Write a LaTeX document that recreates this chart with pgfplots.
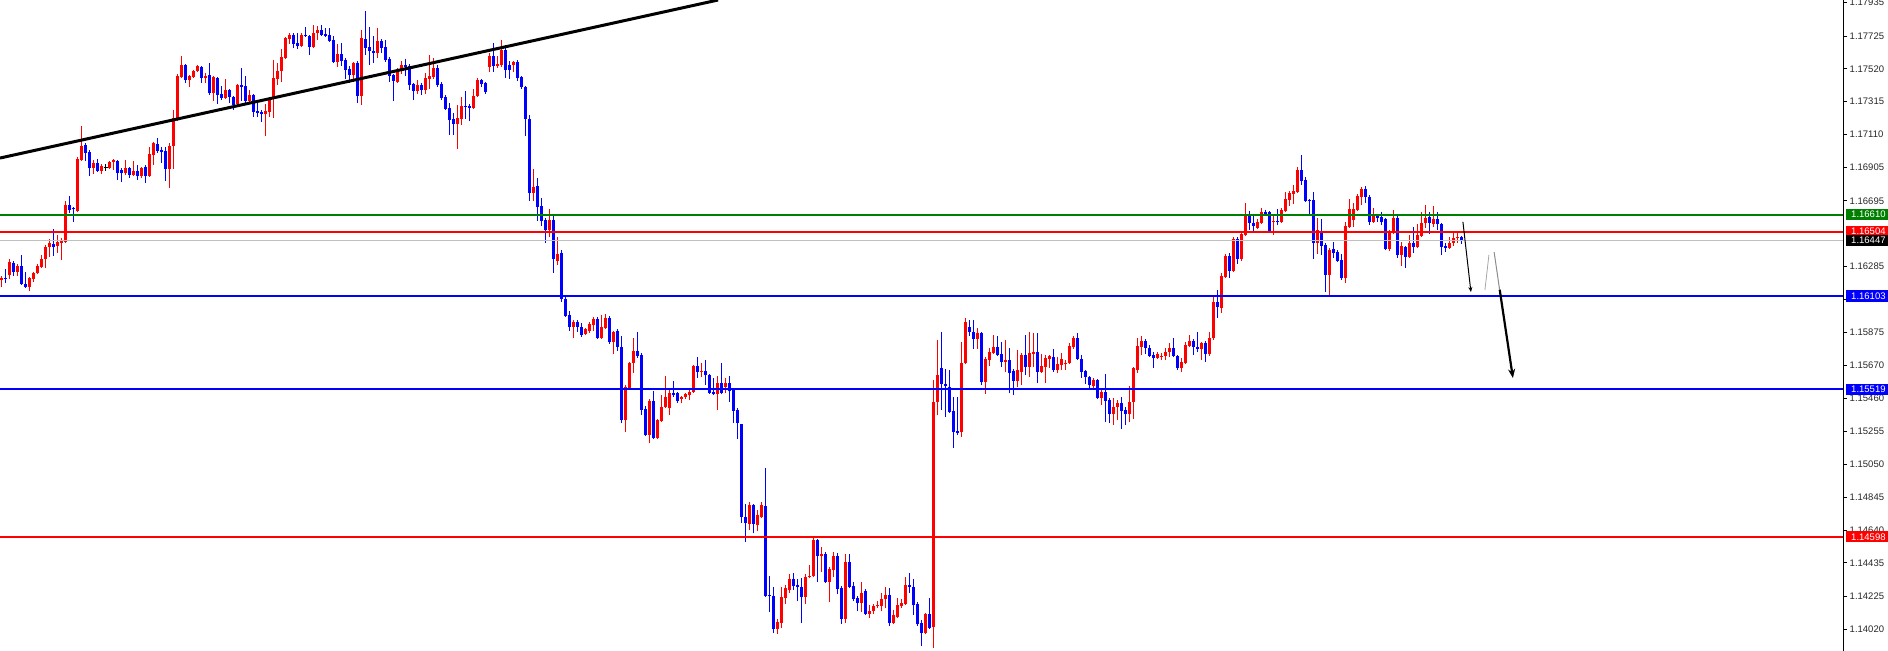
\documentclass[border=0pt]{standalone}
\usepackage{pgfplots}
\usepackage{pgfplotstable}
\pgfplotsset{compat=1.18}
\usepackage{fontspec}
\setmainfont{Liberation Sans}
\usetikzlibrary{arrows.meta}
\definecolor{mtred}{RGB}{255,0,0}
\definecolor{mtblue}{RGB}{0,0,255}
\definecolor{mtgreen}{RGB}{0,128,0}
\definecolor{mtsilver}{RGB}{192,192,192}
\newcommand{\lblfont}{\fontsize{9.5bp}{9.5bp}\selectfont}

\pgfplotstableread{
i o h l c
0 1.16202 1.16227 1.16158 1.16215
1 1.16215 1.16271 1.16183 1.16208
2 1.16233 1.16333 1.16208 1.16315
3 1.16308 1.16321 1.16227 1.16252
4 1.16252 1.16302 1.16227 1.16290
5 1.16290 1.16358 1.16171 1.16177
6 1.16177 1.16252 1.16152 1.16158
7 1.16158 1.16221 1.16133 1.16215
8 1.16208 1.16252 1.16190 1.16246
9 1.16246 1.16302 1.16240 1.16290
10 1.16283 1.16358 1.16277 1.16333
11 1.16333 1.16421 1.16277 1.16408
12 1.16408 1.16458 1.16346 1.16433
13 1.16427 1.16521 1.16352 1.16408
14 1.16415 1.16483 1.16371 1.16440
15 1.16433 1.16465 1.16327 1.16452
16 1.16440 1.16696 1.16433 1.16671
17 1.16671 1.16727 1.16621 1.16640
18 1.16652 1.16658 1.16565 1.16646
19 1.16633 1.16971 1.16627 1.16958
20 1.16952 1.17165 1.16946 1.17040
21 1.17046 1.17058 1.16946 1.16996
22 1.17002 1.17015 1.16852 1.16902
23 1.16902 1.16952 1.16865 1.16933
24 1.16933 1.16958 1.16877 1.16883
25 1.16883 1.16927 1.16865 1.16915
26 1.16902 1.16927 1.16883 1.16902
27 1.16902 1.16946 1.16896 1.16940
28 1.16940 1.16958 1.16890 1.16952
29 1.16946 1.16952 1.16827 1.16871
30 1.16890 1.16902 1.16815 1.16871
31 1.16871 1.16952 1.16858 1.16902
32 1.16902 1.16908 1.16840 1.16858
33 1.16858 1.16946 1.16852 1.16883
34 1.16883 1.16921 1.16827 1.16852
35 1.16852 1.16908 1.16840 1.16902
36 1.16908 1.16921 1.16808 1.16852
37 1.16852 1.17034 1.16846 1.16990
38 1.16983 1.17065 1.16921 1.17058
39 1.17052 1.17090 1.16996 1.17008
40 1.17015 1.17034 1.16933 1.17002
41 1.17008 1.17034 1.16821 1.16896
42 1.16896 1.17058 1.16777 1.17040
43 1.17040 1.17265 1.16896 1.17215
44 1.17208 1.17490 1.17196 1.17477
45 1.17471 1.17602 1.17465 1.17546
46 1.17546 1.17552 1.17433 1.17452
47 1.17452 1.17483 1.17408 1.17477
48 1.17471 1.17515 1.17465 1.17508
49 1.17508 1.17546 1.17502 1.17540
50 1.17533 1.17540 1.17433 1.17465
51 1.17465 1.17496 1.17433 1.17477
52 1.17483 1.17558 1.17358 1.17371
53 1.17371 1.17477 1.17321 1.17471
54 1.17465 1.17471 1.17302 1.17358
55 1.17365 1.17415 1.17327 1.17340
56 1.17340 1.17458 1.17333 1.17390
57 1.17390 1.17396 1.17308 1.17346
58 1.17346 1.17352 1.17265 1.17296
59 1.17302 1.17427 1.17290 1.17421
60 1.17421 1.17527 1.17321 1.17408
61 1.17415 1.17477 1.17308 1.17321
62 1.17321 1.17390 1.17302 1.17358
63 1.17358 1.17365 1.17221 1.17252
64 1.17258 1.17315 1.17221 1.17246
65 1.17252 1.17265 1.17190 1.17240
66 1.17240 1.17302 1.17102 1.17258
67 1.17252 1.17340 1.17221 1.17333
68 1.17333 1.17577 1.17215 1.17465
69 1.17458 1.17558 1.17421 1.17508
70 1.17508 1.17646 1.17440 1.17596
71 1.17590 1.17721 1.17583 1.17715
72 1.17708 1.17746 1.17677 1.17733
73 1.17733 1.17746 1.17652 1.17677
74 1.17683 1.17746 1.17646 1.17665
75 1.17665 1.17746 1.17658 1.17733
76 1.17733 1.17783 1.17721 1.17727
77 1.17727 1.17733 1.17608 1.17658
78 1.17658 1.17796 1.17652 1.17746
79 1.17746 1.17790 1.17702 1.17765
80 1.17765 1.17796 1.17727 1.17733
81 1.17740 1.17777 1.17721 1.17727
82 1.17733 1.17777 1.17690 1.17696
83 1.17702 1.17727 1.17558 1.17565
84 1.17565 1.17677 1.17533 1.17615
85 1.17615 1.17683 1.17540 1.17571
86 1.17577 1.17590 1.17458 1.17515
87 1.17521 1.17540 1.17433 1.17483
88 1.17483 1.17565 1.17440 1.17558
89 1.17558 1.17571 1.17308 1.17352
90 1.17352 1.17765 1.17296 1.17715
91 1.17708 1.17883 1.17608 1.17652
92 1.17658 1.17783 1.17546 1.17633
93 1.17633 1.17727 1.17558 1.17621
94 1.17621 1.17777 1.17590 1.17696
95 1.17696 1.17708 1.17621 1.17652
96 1.17658 1.17702 1.17565 1.17577
97 1.17583 1.17596 1.17440 1.17477
98 1.17483 1.17490 1.17321 1.17446
99 1.17440 1.17527 1.17433 1.17515
100 1.17508 1.17571 1.17490 1.17546
101 1.17546 1.17583 1.17477 1.17533
102 1.17540 1.17552 1.17390 1.17421
103 1.17427 1.17433 1.17327 1.17383
104 1.17383 1.17452 1.17365 1.17421
105 1.17421 1.17433 1.17358 1.17390
106 1.17390 1.17496 1.17365 1.17465
107 1.17458 1.17608 1.17396 1.17477
108 1.17471 1.17590 1.17458 1.17527
109 1.17527 1.17546 1.17408 1.17421
110 1.17427 1.17440 1.17327 1.17340
111 1.17346 1.17358 1.17265 1.17271
112 1.17277 1.17308 1.17109 1.17202
113 1.17208 1.17246 1.17109 1.17177
114 1.17177 1.17296 1.17021 1.17215
115 1.17208 1.17346 1.17171 1.17290
116 1.17290 1.17383 1.17208 1.17283
117 1.17290 1.17302 1.17196 1.17277
118 1.17277 1.17396 1.17271 1.17352
119 1.17352 1.17465 1.17346 1.17452
120 1.17452 1.17458 1.17408 1.17427
121 1.17433 1.17440 1.17365 1.17377
122 1.17533 1.17621 1.17502 1.17602
123 1.17602 1.17683 1.17502 1.17540
124 1.17540 1.17602 1.17527 1.17552
125 1.17546 1.17702 1.17533 1.17640
126 1.17640 1.17671 1.17465 1.17515
127 1.17546 1.17571 1.17458 1.17515
128 1.17546 1.17571 1.17502 1.17565
129 1.17565 1.17577 1.17446 1.17465
130 1.17471 1.17477 1.17396 1.17408
131 1.17408 1.17415 1.17102 1.17208
132 1.17208 1.17233 1.16696 1.16746
133 1.16746 1.16896 1.16696 1.16783
134 1.16790 1.16840 1.16571 1.16658
135 1.16665 1.16715 1.16540 1.16571
136 1.16577 1.16590 1.16433 1.16515
137 1.16515 1.16646 1.16471 1.16577
138 1.16577 1.16608 1.16246 1.16333
139 1.16321 1.16471 1.16296 1.16365
140 1.16371 1.16390 1.16065 1.16083
141 1.16083 1.16102 1.15971 1.15977
142 1.15983 1.16008 1.15883 1.15908
143 1.15908 1.15952 1.15840 1.15940
144 1.15940 1.15952 1.15877 1.15908
145 1.15908 1.15933 1.15846 1.15858
146 1.15865 1.15902 1.15858 1.15896
147 1.15883 1.15940 1.15871 1.15927
148 1.15921 1.15971 1.15883 1.15958
149 1.15958 1.15971 1.15833 1.15840
150 1.15840 1.15983 1.15833 1.15908
151 1.15902 1.15990 1.15896 1.15965
152 1.15965 1.15977 1.15802 1.15815
153 1.15815 1.15883 1.15740 1.15877
154 1.15883 1.15896 1.15758 1.15783
155 1.15783 1.15852 1.15308 1.15327
156 1.15327 1.15546 1.15252 1.15533
157 1.15527 1.15690 1.15521 1.15683
158 1.15683 1.15840 1.15621 1.15758
159 1.15758 1.15877 1.15715 1.15727
160 1.15733 1.15746 1.15358 1.15390
161 1.15396 1.15415 1.15227 1.15233
162 1.15233 1.15458 1.15183 1.15446
163 1.15446 1.15508 1.15208 1.15215
164 1.15215 1.15333 1.15208 1.15327
165 1.15321 1.15483 1.15315 1.15408
166 1.15408 1.15602 1.15402 1.15471
167 1.15402 1.15515 1.15358 1.15496
168 1.15496 1.15571 1.15471 1.15483
169 1.15496 1.15502 1.15433 1.15446
170 1.15458 1.15477 1.15433 1.15471
171 1.15471 1.15496 1.15458 1.15490
172 1.15483 1.15515 1.15452 1.15502
173 1.15502 1.15671 1.15496 1.15665
174 1.15665 1.15721 1.15590 1.15627
175 1.15627 1.15683 1.15596 1.15633
176 1.15633 1.15702 1.15546 1.15608
177 1.15608 1.15615 1.15490 1.15496
178 1.15502 1.15590 1.15483 1.15490
179 1.15490 1.15602 1.15390 1.15558
180 1.15558 1.15683 1.15490 1.15496
181 1.15533 1.15590 1.15496 1.15558
182 1.15558 1.15602 1.15440 1.15508
183 1.15521 1.15527 1.15308 1.15383
184 1.15390 1.15402 1.15208 1.15308
185 1.15302 1.15302 1.14683 1.14721
186 1.14721 1.14802 1.14565 1.14683
187 1.14677 1.14815 1.14640 1.14796
188 1.14796 1.14802 1.14621 1.14677
189 1.14671 1.14765 1.14633 1.14733
190 1.14721 1.14815 1.14715 1.14796
191 1.14790 1.15027 1.14221 1.14227
192 1.14233 1.14352 1.14127 1.14227
193 1.14227 1.14283 1.13996 1.14021
194 1.14021 1.14083 1.13990 1.14065
195 1.14058 1.14283 1.14027 1.14221
196 1.14215 1.14296 1.14177 1.14277
197 1.14265 1.14365 1.14246 1.14333
198 1.14333 1.14371 1.14265 1.14290
199 1.14296 1.14333 1.14196 1.14283
200 1.14283 1.14340 1.14058 1.14221
201 1.14221 1.14365 1.14177 1.14346
202 1.14346 1.14421 1.14340 1.14352
203 1.14352 1.14590 1.14346 1.14577
204 1.14577 1.14583 1.14315 1.14477
205 1.14477 1.14533 1.14377 1.14490
206 1.14490 1.14502 1.14308 1.14315
207 1.14315 1.14408 1.14190 1.14396
208 1.14390 1.14502 1.14346 1.14477
209 1.14477 1.14496 1.14240 1.14271
210 1.14277 1.14290 1.14052 1.14083
211 1.14083 1.14490 1.14058 1.14440
212 1.14440 1.14490 1.14277 1.14283
213 1.14290 1.14315 1.14196 1.14208
214 1.14215 1.14227 1.14133 1.14183
215 1.14183 1.14315 1.14127 1.14246
216 1.14258 1.14271 1.14108 1.14115
217 1.14115 1.14171 1.14090 1.14133
218 1.14133 1.14177 1.14115 1.14165
219 1.14165 1.14196 1.14152 1.14171
220 1.14165 1.14246 1.14133 1.14208
221 1.14208 1.14283 1.14152 1.14233
222 1.14233 1.14277 1.14040 1.14058
223 1.14058 1.14140 1.14052 1.14108
224 1.14096 1.14215 1.14090 1.14171
225 1.14165 1.14208 1.14152 1.14183
226 1.14177 1.14346 1.14171 1.14296
227 1.14296 1.14371 1.14246 1.14283
228 1.14283 1.14333 1.14108 1.14171
229 1.14177 1.14190 1.14040 1.14052
230 1.14058 1.14077 1.13915 1.13996
231 1.13996 1.14121 1.13990 1.14115
232 1.14115 1.14215 1.14021 1.14027
233 1.14033 1.15577 1.13902 1.15440
234 1.15440 1.15827 1.15358 1.15608
235 1.15652 1.15877 1.15390 1.15552
236 1.15552 1.15646 1.15346 1.15540
237 1.15533 1.15640 1.15371 1.15377
238 1.15383 1.15471 1.15152 1.15252
239 1.15258 1.15471 1.15233 1.15246
240 1.15252 1.15815 1.15221 1.15683
241 1.15683 1.15965 1.15677 1.15940
242 1.15908 1.15952 1.15852 1.15877
243 1.15877 1.15952 1.15771 1.15833
244 1.15833 1.15902 1.15771 1.15871
245 1.15871 1.15877 1.15546 1.15565
246 1.15565 1.15721 1.15490 1.15708
247 1.15702 1.15777 1.15665 1.15752
248 1.15746 1.15858 1.15740 1.15783
249 1.15783 1.15852 1.15727 1.15733
250 1.15740 1.15815 1.15658 1.15690
251 1.15690 1.15827 1.15627 1.15702
252 1.15702 1.15777 1.15496 1.15621
253 1.15633 1.15646 1.15483 1.15571
254 1.15571 1.15765 1.15533 1.15640
255 1.15627 1.15746 1.15546 1.15733
256 1.15733 1.15858 1.15608 1.15658
257 1.15658 1.15877 1.15596 1.15746
258 1.15740 1.15871 1.15658 1.15752
259 1.15752 1.15871 1.15558 1.15627
260 1.15627 1.15740 1.15621 1.15665
261 1.15658 1.15733 1.15558 1.15715
262 1.15708 1.15733 1.15652 1.15727
263 1.15721 1.15771 1.15627 1.15640
264 1.15640 1.15721 1.15621 1.15677
265 1.15671 1.15746 1.15640 1.15708
266 1.15677 1.15702 1.15640 1.15683
267 1.15683 1.15808 1.15677 1.15790
268 1.15783 1.15852 1.15771 1.15840
269 1.15840 1.15871 1.15702 1.15708
270 1.15708 1.15733 1.15590 1.15627
271 1.15633 1.15640 1.15552 1.15596
272 1.15596 1.15602 1.15527 1.15546
273 1.15540 1.15590 1.15527 1.15577
274 1.15577 1.15583 1.15458 1.15465
275 1.15465 1.15515 1.15421 1.15502
276 1.15502 1.15615 1.15315 1.15446
277 1.15452 1.15465 1.15308 1.15365
278 1.15365 1.15465 1.15296 1.15408
279 1.15408 1.15452 1.15327 1.15433
280 1.15433 1.15471 1.15271 1.15383
281 1.15390 1.15408 1.15296 1.15365
282 1.15365 1.15540 1.15315 1.15440
283 1.15440 1.15658 1.15333 1.15652
284 1.15640 1.15840 1.15621 1.15790
285 1.15783 1.15852 1.15733 1.15821
286 1.15821 1.15833 1.15740 1.15777
287 1.15777 1.15796 1.15721 1.15727
288 1.15733 1.15752 1.15652 1.15715
289 1.15715 1.15752 1.15708 1.15740
290 1.15721 1.15746 1.15702 1.15727
291 1.15727 1.15777 1.15702 1.15752
292 1.15752 1.15808 1.15721 1.15777
293 1.15777 1.15840 1.15721 1.15727
294 1.15727 1.15733 1.15640 1.15652
295 1.15652 1.15715 1.15627 1.15690
296 1.15683 1.15815 1.15677 1.15796
297 1.15790 1.15858 1.15783 1.15821
298 1.15821 1.15833 1.15733 1.15783
299 1.15783 1.15877 1.15752 1.15771
300 1.15771 1.15815 1.15702 1.15808
301 1.15808 1.15821 1.15690 1.15740
302 1.15740 1.15877 1.15727 1.15840
303 1.15840 1.16108 1.15827 1.16065
304 1.16065 1.16140 1.15965 1.16033
305 1.16027 1.16246 1.15996 1.16227
306 1.16221 1.16365 1.16215 1.16352
307 1.16352 1.16371 1.16215 1.16258
308 1.16258 1.16471 1.16252 1.16458
309 1.16458 1.16471 1.16302 1.16333
310 1.16333 1.16496 1.16321 1.16490
311 1.16483 1.16683 1.16477 1.16615
312 1.16608 1.16633 1.16515 1.16558
313 1.16558 1.16602 1.16502 1.16540
314 1.16527 1.16583 1.16521 1.16565
315 1.16558 1.16652 1.16552 1.16627
316 1.16627 1.16640 1.16602 1.16615
317 1.16627 1.16633 1.16496 1.16508
318 1.16565 1.16608 1.16483 1.16571
319 1.16571 1.16646 1.16546 1.16565
320 1.16565 1.16652 1.16558 1.16640
321 1.16633 1.16752 1.16627 1.16708
322 1.16702 1.16758 1.16665 1.16746
323 1.16740 1.16796 1.16677 1.16758
324 1.16752 1.16908 1.16746 1.16890
325 1.16890 1.16983 1.16796 1.16821
326 1.16827 1.16846 1.16690 1.16696
327 1.16702 1.16708 1.16608 1.16696
328 1.16702 1.16752 1.16333 1.16433
329 1.16433 1.16590 1.16365 1.16515
330 1.16502 1.16583 1.16358 1.16415
331 1.16421 1.16433 1.16127 1.16233
332 1.16233 1.16402 1.16102 1.16390
333 1.16396 1.16440 1.16340 1.16371
334 1.16377 1.16390 1.16315 1.16321
335 1.16327 1.16365 1.16202 1.16215
336 1.16215 1.16565 1.16183 1.16540
337 1.16533 1.16708 1.16527 1.16646
338 1.16577 1.16683 1.16533 1.16646
339 1.16640 1.16740 1.16633 1.16727
340 1.16721 1.16783 1.16671 1.16771
341 1.16771 1.16790 1.16683 1.16721
342 1.16721 1.16733 1.16546 1.16565
343 1.16565 1.16652 1.16558 1.16602
344 1.16602 1.16608 1.16565 1.16590
345 1.16596 1.16627 1.16546 1.16565
346 1.16583 1.16590 1.16390 1.16396
347 1.16396 1.16515 1.16383 1.16496
348 1.16496 1.16640 1.16490 1.16590
349 1.16590 1.16608 1.16340 1.16358
350 1.16358 1.16440 1.16290 1.16415
351 1.16408 1.16415 1.16277 1.16346
352 1.16346 1.16483 1.16340 1.16433
353 1.16433 1.16533 1.16371 1.16408
354 1.16408 1.16552 1.16402 1.16483
355 1.16477 1.16627 1.16471 1.16558
356 1.16558 1.16671 1.16527 1.16590
357 1.16596 1.16627 1.16490 1.16558
358 1.16552 1.16665 1.16533 1.16583
359 1.16583 1.16627 1.16515 1.16552
360 1.16552 1.16558 1.16358 1.16408
361 1.16415 1.16433 1.16377 1.16402
362 1.16402 1.16471 1.16396 1.16433
363 1.16433 1.16496 1.16415 1.16465
364 1.16465 1.16502 1.16433 1.16471
365 1.16471 1.16477 1.16427 1.16447
}\candles

\begin{document}
\begin{tikzpicture}
\begin{axis}[
  at={(0,0)}, anchor=south west,
  scale only axis, width=1843bp, height=651bp,
  xmin=-0.425, xmax=460.325, ymin=1.138845, ymax=1.17950,
  clip=false,
  axis x line=none,
  axis y line*=right,
  axis line style={black, line width=1bp},
  ytick={1.14020,1.14225,1.14435,1.14640,1.14845,1.15050,1.15255,1.15460,1.15670,1.15875,1.16080,1.16285,1.16695,1.16905,1.17110,1.17315,1.17520,1.17725,1.17935},
  yticklabels={1.14020,1.14225,1.14435,1.14640,1.14845,1.15050,1.15255,1.15460,1.15670,1.15875,1.16080,1.16285,1.16695,1.16905,1.17110,1.17315,1.17520,1.17725,1.17935},
  tick align=outside, major tick length=4bp,
  ytick style={black, line width=1bp},
  yticklabel style={font=\lblfont, anchor=west, inner sep=0pt, xshift=2.5bp, text=black!85},
]
% wicks
\addplot[draw=none, mark=none,
  restrict expr to domain={\thisrow{c}-\thisrow{o}}{0.00001:1},
  error bars/.cd, y dir=plus, y explicit, error mark=none,
  error bar style={draw=mtred, line width=1bp}]
  table[x=i, y=l, y error plus expr=\thisrow{h}-\thisrow{l}] {\candles};
\addplot[draw=none, mark=none,
  restrict expr to domain={\thisrow{c}-\thisrow{o}}{-1:-0.00001},
  error bars/.cd, y dir=plus, y explicit, error mark=none,
  error bar style={draw=mtblue, line width=1bp}]
  table[x=i, y=l, y error plus expr=\thisrow{h}-\thisrow{l}] {\candles};
\addplot[draw=none, mark=none,
  restrict expr to domain={\thisrow{c}-\thisrow{o}}{-0.000005:0.000005},
  error bars/.cd, y dir=plus, y explicit, error mark=none,
  error bar style={draw=black, line width=1bp}]
  table[x=i, y=l, y error plus expr=\thisrow{h}-\thisrow{l}] {\candles};
% bodies
\addplot[draw=none, mark=none,
  restrict expr to domain={\thisrow{c}-\thisrow{o}}{0.00001:1},
  error bars/.cd, y dir=plus, y explicit, error mark=none,
  error bar style={draw=mtred, line width=3bp}]
  table[x=i, y=o, y error plus expr=\thisrow{c}-\thisrow{o}] {\candles};
\addplot[draw=none, mark=none,
  restrict expr to domain={\thisrow{c}-\thisrow{o}}{-1:-0.00001},
  error bars/.cd, y dir=plus, y explicit, error mark=none,
  error bar style={draw=mtblue, line width=3bp}]
  table[x=i, y=c, y error plus expr=\thisrow{o}-\thisrow{c}] {\candles};
\addplot[black, only marks, mark=-, mark size=2bp, mark options={line width=1bp},
  restrict expr to domain={\thisrow{c}-\thisrow{o}}{-0.000005:0.000005}]
  table[x=i, y=o] {\candles};
% levels
\addplot[mtsilver, line width=1bp] coordinates {(-0.425,1.16447) (460.325,1.16447)};
\addplot[mtgreen, line width=2bp] coordinates {(-0.425,1.16610) (460.325,1.16610)};
\addplot[mtred, line width=2bp] coordinates {(-0.425,1.16504) (460.325,1.16504)};
\addplot[mtblue, line width=2bp] coordinates {(-0.425,1.16103) (460.325,1.16103)};
\addplot[mtblue, line width=2bp] coordinates {(-0.425,1.15519) (460.325,1.15519)};
\addplot[mtred, line width=2bp] coordinates {(-0.425,1.14598) (460.325,1.14598)};
% trend line
\addplot[black, line width=3bp] coordinates {(-0.425,1.16963) (179.1,1.17950)};
% projection arrows
\draw[black, line width=1bp, -{Stealth[length=5bp,width=4bp]}] (axis cs:365.3,1.16564) -- (axis cs:367.3,1.16126);
\draw[black!35, line width=0.8bp] (axis cs:370.8,1.16139) -- (axis cs:371.8,1.16358);
\draw[black!45, line width=1bp] (axis cs:373.1,1.16376) -- (axis cs:374.6,1.16118);
\draw[black, line width=2.2bp, -{Stealth[length=9bp,width=7bp]}] (axis cs:374.5,1.16140) -- (axis cs:377.8,1.15589);
% price badges
\tikzset{badge/.style={anchor=west, xshift=2.5bp, inner sep=0pt, minimum height=11.5bp, text=white, font=\lblfont}}
\node[badge, fill=mtgreen] at (axis cs:460.325,1.16610) {\makebox[42.5bp][l]{\hspace{5.5bp}1.16610}};
\node[badge, fill=mtred] at (axis cs:460.325,1.16504) {\makebox[42.5bp][l]{\hspace{5.5bp}1.16504}};
\node[badge, fill=black] at (axis cs:460.325,1.16447) {\makebox[42.5bp][l]{\hspace{5.5bp}1.16447}};
\node[badge, fill=mtblue] at (axis cs:460.325,1.16103) {\makebox[42.5bp][l]{\hspace{5.5bp}1.16103}};
\node[badge, fill=mtblue] at (axis cs:460.325,1.15519) {\makebox[42.5bp][l]{\hspace{5.5bp}1.15519}};
\node[badge, fill=mtred] at (axis cs:460.325,1.14598) {\makebox[42.5bp][l]{\hspace{5.5bp}1.14598}};
\end{axis}
\pgfresetboundingbox
\path (0,0) rectangle (1888bp,651bp);
\end{tikzpicture}
\end{document}
